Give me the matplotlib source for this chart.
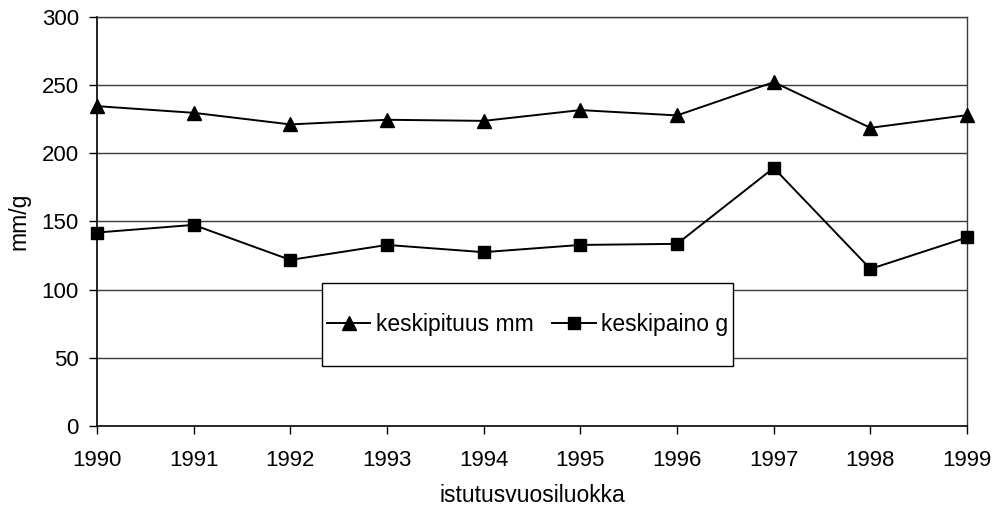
import matplotlib
matplotlib.use("Agg")
import matplotlib.pyplot as plt
from matplotlib.patches import Rectangle

# data
years = [1990, 1991, 1992, 1993, 1994, 1995, 1996, 1997, 1998, 1999]
keskipituus_mm = [234.6, 229.7, 221.2, 224.6, 223.8, 231.7, 227.8, 252.2, 218.7, 228.0]
keskipaino_g = [141.9, 147.5, 121.8, 132.8, 127.5, 132.8, 133.6, 189.3, 115.2, 138.3]
y_ticks = [0, 50, 100, 150, 200, 250, 300]


def main():
    plt.rcParams["font.family"] = ["Liberation Sans", "DejaVu Sans"]

    fig = plt.figure(figsize=(9.97, 5.13), dpi=100)
    ax = fig.add_axes([0.0973, 0.1696, 0.8727, 0.7973])

    # horizontal gridlines
    for v in y_ticks[1:]:
        ax.axhline(v, color="#3a3a3a", linewidth=1.0, zorder=1)

    ax.plot(years, keskipituus_mm, color="black", linewidth=1.4,
            marker="^", markersize=9.5, label="keskipituus mm", zorder=3,
            clip_on=False)
    ax.plot(years, keskipaino_g, color="black", linewidth=1.4,
            marker="s", markersize=8.5, label="keskipaino g", zorder=3,
            clip_on=False)

    ax.set_xlim(1990, 1999)
    ax.set_ylim(0, 300)
    ax.set_xticks(years)
    ax.set_yticks(y_ticks)
    ax.tick_params(axis="both", direction="out", length=6, width=1,
                   labelsize=16, color="black")
    ax.tick_params(axis="x", pad=11)
    ax.tick_params(axis="y", pad=7)

    for side in ["top", "right"]:
        ax.spines[side].set_color("#3a3a3a")
        ax.spines[side].set_linewidth(1.0)
    for side in ["left", "bottom"]:
        ax.spines[side].set_color("black")
        ax.spines[side].set_linewidth(1.2)

    ax.set_xlabel("istutusvuosiluokka", fontsize=16.5, labelpad=10)
    ax.set_ylabel("mm/g", fontsize=16.5, labelpad=8)

    # legend box
    box = Rectangle((0.2586, 0.1467), 0.4725, 0.2029, transform=ax.transAxes,
                    facecolor="white", edgecolor="black", linewidth=1.0,
                    zorder=4)
    ax.add_patch(box)
    leg = ax.legend(loc="center", bbox_to_anchor=(0.4949, 0.2482), ncol=2,
                    fontsize=16.5, frameon=False, handlelength=1.9,
                    columnspacing=0.8, handletextpad=0.25, borderpad=0,
                    borderaxespad=0)
    leg.set_zorder(5)

    fig.savefig("out.png", dpi=100)


if __name__ == "__main__":
    main()
